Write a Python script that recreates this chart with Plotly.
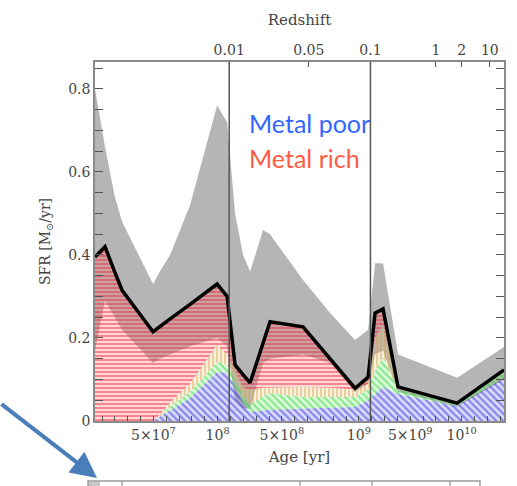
import plotly.graph_objects as go
import numpy as np

# Age-bin position (axis unit = one age bin; ticks every bin)
pos = [-0.55, 0.23, 1.0, 1.56, 3.97, 4.5, 5.3, 6.85, 8.96, 9.74, 10.36, 10.98,
       11.53, 12.54, 13.08, 15.65, 17.76, 19.7, 20.72, 21.26, 21.88, 23.05, 27.65, 31.3]

# SFR [Msun/yr] contributions by metallicity group
sfr_poor = [0, 0, 0, 0, 0, 0.01, 0.025, 0.055, 0.118, 0.116, 0.08, 0.045,
            0.022, 0.025, 0.027, 0.03, 0.032, 0.034, 0.05, 0.065, 0.082, 0.065, 0.036, 0.104]
sfr_low = [0, 0, 0, 0, 0, 0, 0.01, 0.015, 0.024, 0.019, 0.02, 0.015,
           0.018, 0.035, 0.04, 0.028, 0.026, 0.024, 0.025, 0.055, 0.072, 0.01, 0.007, 0.019]
sfr_mid = [0, 0, 0, 0, 0, 0.005, 0.01, 0.02, 0.041, 0.025, 0.02, 0.02,
           0.035, 0.02, 0.013, 0.024, 0.022, 0.017, 0.015, 0.08, 0.076, 0.005, 0, 0]
sfr_total = [0.395, 0.42, 0.358, 0.315, 0.215, 0.228, 0.246, 0.281, 0.33, 0.30, 0.135, 0.112,
             0.092, 0.188, 0.239, 0.227, 0.15, 0.079, 0.106, 0.26, 0.27, 0.082, 0.043, 0.123]

# Uncertainty envelope of the total SFR
sfr_lo = [0.17, 0.29, 0.25, 0.22, 0.14, 0.15, 0.16, 0.18, 0.20, 0.18, 0.05, 0.03,
          0.03, 0.14, 0.15, 0.16, 0.14, 0.07, 0.09, 0.16, 0.17, 0.07, 0.035, 0.10]
sfr_hi = [0.80, 0.66, 0.54, 0.48, 0.33, 0.36, 0.40, 0.52, 0.76, 0.72, 0.50, 0.40,
          0.36, 0.46, 0.45, 0.34, 0.26, 0.195, 0.22, 0.38, 0.38, 0.16, 0.104, 0.178]

# Bottom axis labels (age) and top axis labels (redshift)
age_pos = [4, 9, 14, 20, 24, 28]
age_text = ["5×10<sup>7</sup>", "10<sup>8</sup>", "5×10<sup>8</sup>",
            "10<sup>9</sup>", "5×10<sup>9</sup>", "10<sup>10</sup>"]
z_pos = [9.9, 16.1, 20.9, 26.0, 28.0, 30.2]
z_text = ["0.01", "0.05", "0.1", "1", "2", "10"]
z_lines = ["0.01", "0.1"]

xr = [-0.55, 31.3]
yr = [0, 0.865]

c_poor = np.array(sfr_poor)
c_low = c_poor + np.array(sfr_low)
c_mid = c_low + np.array(sfr_mid)
total = np.array(sfr_total)

serif = "DejaVu Serif"
axis_col = "#8a8a8a"
tick_col = "#555555"

fig = go.Figure()

# grey envelope
fig.add_trace(go.Scatter(x=pos, y=sfr_lo, mode="lines", line=dict(width=0),
                         hoverinfo="skip", showlegend=False))
fig.add_trace(go.Scatter(x=pos, y=sfr_hi, mode="lines", line=dict(width=0),
                         fill="tonexty", fillcolor="#b5b5b5", showlegend=False))

# hatched stack: (top, hatch shape, line colour, tint, tile size, solidity)
fig.add_trace(go.Scatter(x=pos, y=[0] * len(pos), mode="lines", line=dict(width=0),
                         showlegend=False))
layers = [
    (c_poor, "\\", "rgb(50,50,225)", "rgba(90,90,235,0.22)", 5, 0.45),
    (c_low, "\\", "rgb(55,215,55)", "rgba(90,230,90,0.2)", 5, 0.45),
    (c_mid, "|", "rgb(215,165,80)", "rgba(235,190,110,0.22)", 4, 0.45),
    (total, "-", "rgb(238,45,60)", "rgba(255,130,140,0.25)", 4, 0.55),
]
for top, shape, col, tint, size, sol in layers:
    fig.add_trace(go.Scatter(
        x=pos, y=top, mode="lines", line=dict(width=0),
        fill="tonexty", fillcolor=col,
        fillpattern=dict(shape=shape, fgcolor=col, bgcolor=tint,
                         size=size, solidity=sol),
        showlegend=False))

# total SFR
fig.add_trace(go.Scatter(x=pos, y=sfr_total, mode="lines",
                         line=dict(color="black", width=3.5), showlegend=False))

# reference redshift lines
for zl in z_lines:
    xv = z_pos[z_text.index(zl)]
    fig.add_shape(type="line", x0=xv, x1=xv, y0=yr[0], y1=yr[1], xref="x", yref="y",
                  line=dict(color="#555555", width=1.5))

# second-panel frame peeking in at the bottom
px = lambda v: (v - 95) / 409
py = lambda v: (421 - v) / 359
fig.add_shape(type="rect", xref="paper", yref="paper", x0=px(88), x1=px(100),
              y0=py(482), y1=py(492), fillcolor="#c8c8c8", line=dict(width=0), layer="below")
fig.add_shape(type="rect", xref="paper", yref="paper", x0=px(88), x1=px(480),
              y0=py(481), y1=py(495), line=dict(color="#9a9a9a", width=1.5))
for v in [122, 300, 372, 450]:
    fig.add_shape(type="line", xref="paper", yref="paper", x0=px(v), x1=px(v),
                  y0=py(481), y1=py(495), line=dict(color="#9a9a9a", width=1.2))

# labels
fig.add_annotation(x=px(247), y=py(123), xref="paper", yref="paper", text="Metal poor",
                   showarrow=False, xanchor="left", yanchor="middle",
                   font=dict(family="Lato", size=25, color="#3366ff"))
fig.add_annotation(x=px(247), y=py(158), xref="paper", yref="paper", text="Metal rich",
                   showarrow=False, xanchor="left", yanchor="middle",
                   font=dict(family="Lato", size=25, color="#ff5a42"))

# pointer arrow
fig.add_annotation(x=px(97), y=py(478), xref="paper", yref="paper", text="",
                   showarrow=True, ax=-97, ay=-75, arrowhead=2, arrowsize=1.3,
                   arrowwidth=4, arrowcolor="#4a7ebb", standoff=0)

fig.update_layout(
    width=517, height=486,
    margin=dict(l=95, r=13, t=62, b=65),
    paper_bgcolor="white", plot_bgcolor="white",
    font=dict(family=serif, size=14, color="#444444"),
    xaxis=dict(range=xr, showgrid=False, zeroline=False,
               showline=True, linecolor=axis_col, linewidth=1.5,
               tickmode="array", tickvals=age_pos, ticktext=age_text,
               ticks="inside", ticklen=5, tickcolor=tick_col,
               title=dict(text="Age [yr]", standoff=10, font=dict(size=15))),
    # one tick per age bin, no labels
    xaxis3=dict(range=xr, overlaying="x", side="bottom", showgrid=False, zeroline=False,
                tickmode="linear", tick0=0, dtick=1, ticks="inside", ticklen=5,
                tickcolor=tick_col, showticklabels=False),
    xaxis2=dict(range=xr, overlaying="x", side="top", showgrid=False, zeroline=False,
                showline=True, linecolor=axis_col, linewidth=1.5,
                tickmode="array", tickvals=z_pos, ticktext=z_text, ticks="inside",
                ticklen=5, tickcolor=tick_col,
                title=dict(text="Redshift", standoff=12, font=dict(size=15))),
    yaxis=dict(range=yr, showgrid=False, zeroline=False,
               showline=True, linecolor=axis_col, linewidth=1.5, mirror="allticks",
               tickmode="array", tickvals=[0, 0.2, 0.4, 0.6, 0.8],
               ticktext=["0", "0.2", "0.4", "0.6", "0.8"],
               ticks="inside", ticklen=8, tickcolor=tick_col,
               minor=dict(tickmode="linear", tick0=0, dtick=0.05, ticks="inside",
                          ticklen=4, tickcolor=tick_col),
               title=dict(text="SFR [M<sub>⊙</sub>/yr]", standoff=14, font=dict(size=14))),
)
# invisible traces so the extra x axes are drawn
for ax in ["x2", "x3"]:
    fig.add_trace(go.Scatter(x=[xr[0]], y=[0], xaxis=ax, mode="markers",
                             marker=dict(opacity=0), showlegend=False, hoverinfo="skip"))

fig.write_html("out.html")
